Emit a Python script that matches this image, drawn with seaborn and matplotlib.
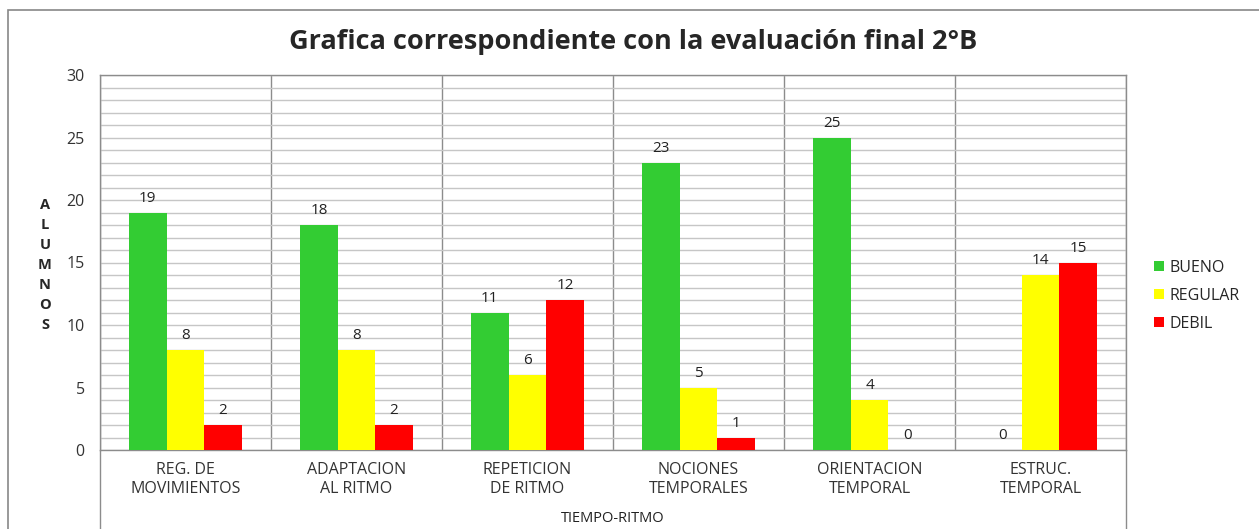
import numpy as np
import pandas as pd
import matplotlib
matplotlib.use('Agg')
import matplotlib.pyplot as plt
import seaborn as sns
from matplotlib.patches import Rectangle
from matplotlib.lines import Line2D

# Data
categories = ['REG. DE\nMOVIMIENTOS', 'ADAPTACION\nAL RITMO', 'REPETICION\nDE RITMO',
              'NOCIONES\nTEMPORALES', 'ORIENTACION\nTEMPORAL', 'ESTRUC.\nTEMPORAL']
bueno = [19, 18, 11, 23, 25, 0]
regular = [8, 8, 6, 5, 4, 14]
debil = [2, 2, 12, 1, 0, 15]
series = ['BUENO', 'REGULAR', 'DEBIL']
colors = ['#33CC33', '#FFFF00', '#FF0000']

df = pd.DataFrame({
    'Categoria': categories * 3,
    'Nivel': [s for s in series for _ in categories],
    'Alumnos': bueno + regular + debil,
})

sns.set_style('white')
plt.rcParams['font.family'] = ['Open Sans', 'DejaVu Sans']

W, H = 1259, 529
fig = plt.figure(figsize=(W / 100, H / 100), dpi=100)
x0, x1, y0, y1 = 100, 1126, 450, 75
ax = fig.add_axes([x0 / W, 1 - y0 / H, (x1 - x0) / W, (y0 - y1) / H])

sns.barplot(data=df, x='Categoria', y='Alumnos', hue='Nivel', hue_order=series,
            palette=colors, width=0.66, saturation=1, linewidth=0, ax=ax, zorder=3)

for cont in ax.containers:
    ax.bar_label(cont, padding=5, fontsize=11, color='#222222')

grid_c = '#C6C6C6'
sep_c = '#8C8C8C'
ax.set_ylim(0, 30)
ax.set_xlim(-0.5, len(categories) - 0.5)
ax.set_yticks(range(0, 31, 5))
ax.set_yticks(range(0, 31), minor=True)
ax.set_xticks(np.arange(-0.5, len(categories)), minor=True)
ax.yaxis.grid(True, which='both', color=grid_c, lw=1, zorder=0)
ax.xaxis.grid(True, which='minor', color=sep_c, lw=1, zorder=0)
ax.xaxis.grid(False, which='major')
ax.set_axisbelow(True)

ax.tick_params(axis='y', which='major', length=4, color=sep_c, pad=7, labelsize=11.5, labelcolor='#333333')
ax.tick_params(axis='y', which='minor', length=0)
ax.tick_params(axis='x', which='major', length=0, pad=9, labelsize=11.5, labelcolor='#333333')
ax.tick_params(axis='x', which='minor', length=34, color=sep_c, width=1, direction='out')
for sp in ax.spines.values():
    sp.set_color(sep_c)
    sp.set_linewidth(1)

ax.set_xlabel('')
ax.set_ylabel('')

# Extended left and right borders down to the bottom
for xp in (x0, x1):
    fig.lines.append(Line2D([xp / W, xp / W], [0, 1 - y0 / H], transform=fig.transFigure,
                            color=sep_c, lw=1))

# Outer chart border
fig.patches.append(Rectangle((8 / W, -0.05), 1.2, 1 - 10 / H + 0.05, transform=fig.transFigure,
                             fill=False, edgecolor='#888888', lw=1.2))

fig.text((x0 + x1) / 2 / W + 20 / W, 1 - 42 / H, 'Grafica correspondiente con la evaluación final 2°B',
         ha='center', va='center', fontsize=19.5, fontweight='bold')
fig.text(45 / W, 1 - 265 / H, '\n'.join('ALUMNOS'), ha='center', va='center',
         fontsize=10.5, fontweight='bold', linespacing=1.55)
fig.text((x0 + x1) / 2 / W, 1 - 518 / H, 'TIEMPO-RITMO', ha='center', va='center',
         fontsize=10.5, color='#222222')

ax.legend_.remove()
fig.legend(handles=ax.containers, labels=series, loc='center left',
           bbox_to_anchor=(1154 / W, 1 - 296 / H), frameon=False, fontsize=11.5,
           handlelength=0.6, handleheight=0.6, handletextpad=0.4, labelspacing=0.75,
           borderpad=0, borderaxespad=0)

fig.savefig('out.png', dpi=100)
